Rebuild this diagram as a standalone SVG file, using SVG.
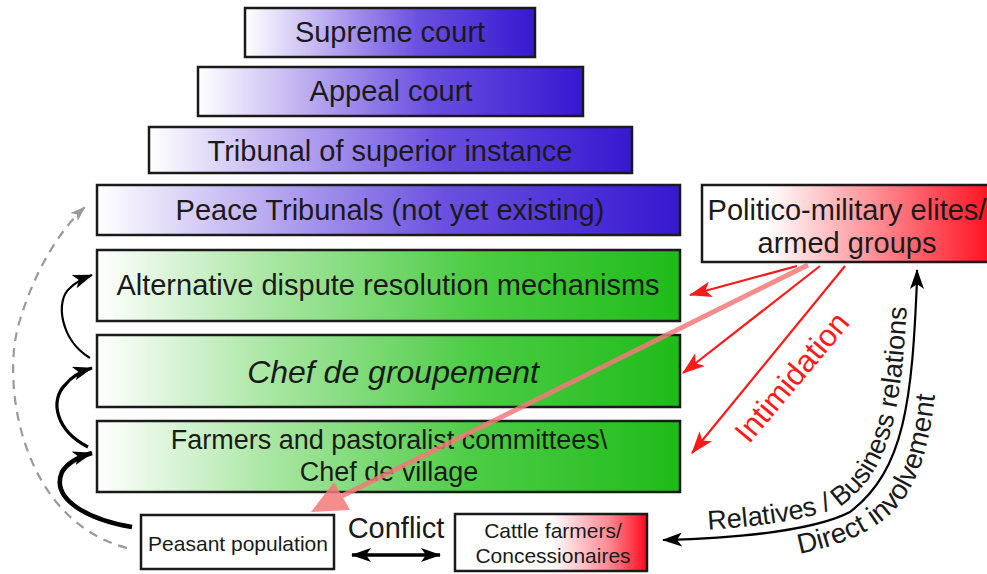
<svg xmlns="http://www.w3.org/2000/svg" width="987" height="574" viewBox="0 0 987 574">
<style>
.box{stroke:#1a1a1a;stroke-width:2.5}
.t{font-family:"Liberation Sans",Arial,sans-serif;fill:#1a1a1a;text-anchor:middle}
.red{stroke:#ff1a1a;stroke-width:2.2;fill:none}
.blk{stroke:#000;fill:none}
</style>
<defs>
<linearGradient id="gb" x1="0" y1="0" x2="1" y2="0">
<stop offset="0" stop-color="#ffffff"/>
<stop offset="0.25" stop-color="#c4b6f2"/>
<stop offset="0.6" stop-color="#6a4fe0"/>
<stop offset="1" stop-color="#3818d0"/>
</linearGradient>
<linearGradient id="gg" x1="0" y1="0" x2="1" y2="0">
<stop offset="0" stop-color="#ffffff"/>
<stop offset="0.3" stop-color="#a8e6a2"/>
<stop offset="0.65" stop-color="#4ccc44"/>
<stop offset="1" stop-color="#1fbb1a"/>
</linearGradient>
<linearGradient id="gr" x1="0" y1="0" x2="1" y2="0">
<stop offset="0" stop-color="#ffffff"/>
<stop offset="0.22" stop-color="#ffffff"/>
<stop offset="0.55" stop-color="#ff9aa0"/>
<stop offset="1" stop-color="#ff0a1a"/>
</linearGradient>
<linearGradient id="gr2" x1="0" y1="0" x2="1" y2="0">
<stop offset="0" stop-color="#ffffff"/>
<stop offset="0.5" stop-color="#ffffff"/>
<stop offset="0.8" stop-color="#ff8a95"/>
<stop offset="1" stop-color="#ff0a1a"/>
</linearGradient>
<marker id="mr" viewBox="0 0 20 14" refX="19" refY="7" markerWidth="24" markerHeight="16" markerUnits="userSpaceOnUse" orient="auto">
<path d="M0,0 L20,7 L0,14 L5,7 Z" fill="#ff1a1a"/>
</marker>
<marker id="mb" viewBox="0 0 20 14" refX="19" refY="7" markerWidth="20" markerHeight="14" markerUnits="userSpaceOnUse" orient="auto">
<path d="M0,0 L20,7 L0,14 L5,7 Z" fill="#000"/>
</marker>
<marker id="mbs" viewBox="0 0 20 14" refX="19" refY="7" markerWidth="20" markerHeight="14" markerUnits="userSpaceOnUse" orient="auto-start-reverse">
<path d="M0,0 L20,7 L0,14 L5,7 Z" fill="#000"/>
</marker>
<marker id="mg" viewBox="0 0 20 14" refX="19" refY="7" markerWidth="16" markerHeight="11" markerUnits="userSpaceOnUse" orient="auto">
<path d="M0,0 L20,7 L0,14 L5,7 Z" fill="#9a9a9a"/>
</marker>
<path id="tp1" d="M 648 532 C 740 530, 810 522, 844 504 C 896 464, 903 400, 909 262"/>
<path id="tp2" d="M 715 564 C 810 558, 868 541, 898 506 C 932 466, 937 400, 942 290"/>
</defs>

<g id="supreme"><rect class="box" x="245" y="8" width="290" height="49" fill="url(#gb)"/><text class="t" x="390" y="42" font-size="29">Supreme court</text></g>
<g id="appeal"><rect class="box" x="198" y="67" width="385" height="49" fill="url(#gb)"/><text class="t" x="391" y="101" font-size="29">Appeal court</text></g>
<g id="tribunal"><rect class="box" x="149" y="127" width="483" height="46" fill="url(#gb)"/><text class="t" x="390" y="161" font-size="29">Tribunal of superior instance</text></g>
<g id="peace"><rect class="box" x="97" y="185" width="583" height="50" fill="url(#gb)"/><text class="t" x="390" y="220" font-size="29">Peace Tribunals (not yet existing)</text></g>
<g id="adr"><rect class="box" x="97" y="250" width="583" height="71" fill="url(#gg)"/><text class="t" x="388" y="295" font-size="29">Alternative dispute resolution mechanisms</text></g>
<g id="chef"><rect class="box" x="97" y="335" width="583" height="72" fill="url(#gg)"/><text class="t" x="393" y="383" font-size="32" font-style="italic">Chef de groupement</text></g>
<g id="farmers"><rect class="box" x="97" y="421" width="583" height="71" fill="url(#gg)"/><text class="t" x="389" y="449" font-size="27">Farmers and pastoralist committees\</text><text class="t" x="389" y="481" font-size="27">Chef de village</text></g>
<g id="elites"><rect class="box" x="702" y="185" width="295" height="77" fill="url(#gr)"/><text class="t" x="847" y="220" font-size="29">Politico-military elites/</text><text class="t" x="847" y="253" font-size="29">armed groups</text></g>
<g id="peasant"><rect class="box" x="141" y="515" width="193" height="54" fill="#fff"/><text class="t" x="238" y="551" font-size="21">Peasant population</text></g>
<g id="cattle"><rect class="box" x="455" y="514" width="192" height="57" fill="url(#gr2)"/><text class="t" x="553" y="538" font-size="21">Cattle farmers/</text><text class="t" x="553" y="563" font-size="21">Concessionaires</text></g>

<g id="connectors">
<path d="M 127 548 C 20 520, 0 380, 20 320 C 35 270, 60 230, 85 207" stroke="#9a9a9a" stroke-width="2.2" stroke-dasharray="9 7" fill="none" marker-end="url(#mg)"/>
<path class="blk" d="M 132 527 C 90 520, 50 500, 62 472 C 68 462, 78 457, 92 453" stroke-width="4.5" marker-end="url(#mb)"/>
<path class="blk" d="M 88 447 C 55 430, 50 400, 65 385 C 72 376, 82 371, 92 368" stroke-width="3.2" marker-end="url(#mb)"/>
<path class="blk" d="M 90 358 C 60 340, 55 300, 70 288 C 76 282, 84 278, 92 275" stroke-width="2.2" marker-end="url(#mb)"/>
<path class="red" d="M 797 266 L 690 295" marker-end="url(#mr)"/>
<path class="red" d="M 820 266 L 683 373" marker-end="url(#mr)"/>
<path class="red" d="M 845 266 L 692 453" marker-end="url(#mr)"/>
<g opacity="0.85" fill="#f47a7a">
<path d="M 808 265 L 342 496" stroke="#f47a7a" stroke-width="5"/>
<path d="M 311 512 L 350 510 L 334 482 Z"/>
</g>
<path class="blk" d="M 917 280 C 912 400, 905 470, 850 512 C 815 530, 740 538, 663 540" stroke-width="2.2" marker-end="url(#mb)"/>
<path class="blk" d="M 917 280 L 917 270" stroke-width="2.2" marker-end="url(#mb)"/>
<path class="blk" d="M 352 555 L 440 555" stroke-width="3.5" marker-start="url(#mbs)" marker-end="url(#mb)"/>
<text class="t" x="396" y="538" font-size="29">Conflict</text>
<text class="t" x="0" y="0" font-size="31" style="fill:#ff1a1a" transform="translate(800,384) rotate(-50)">Intimidation</text>
<text font-family="Liberation Sans, Arial, sans-serif" font-size="27" fill="#1a1a1a"><textPath href="#tp1" startOffset="60">Relatives / Business relations</textPath></text>
<text font-family="Liberation Sans, Arial, sans-serif" font-size="28" fill="#1a1a1a"><textPath href="#tp2" startOffset="85">Direct involvement</textPath></text>
</g>
</svg>
